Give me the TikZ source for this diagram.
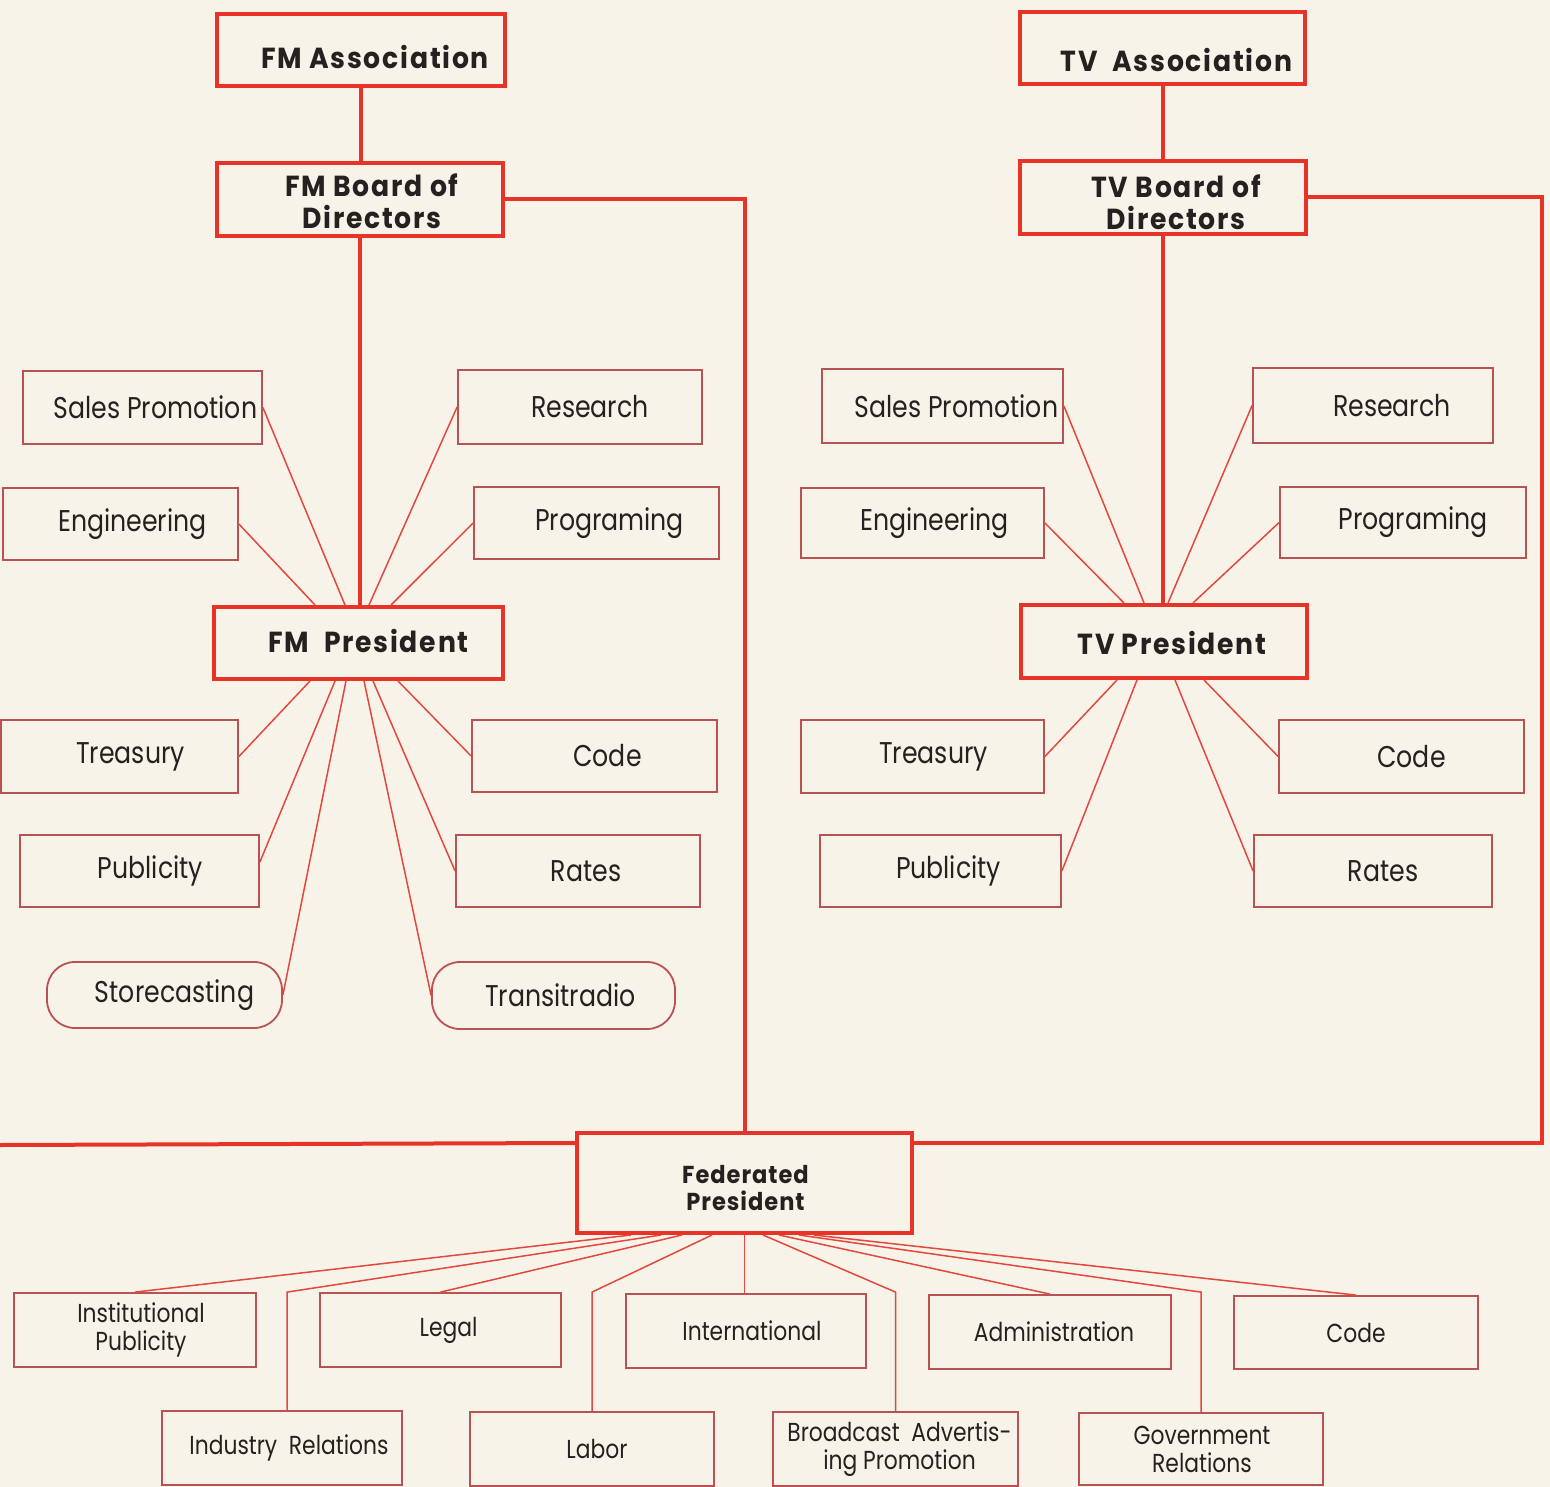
\documentclass[tikz,border=0pt]{standalone}
\usepackage{fontspec}
\newfontfamily\regf{Poppins}[FakeStretch=0.84]
\newfontfamily\boldf{Poppins}[FakeStretch=0.92,LetterSpace=6]
\newfontfamily\fedf{Poppins}[FakeStretch=0.92,LetterSpace=4]
\definecolor{bg}{RGB}{248,243,233}
\definecolor{redk}{RGB}{232,52,40}
\definecolor{thinb}{RGB}{185,82,82}
\definecolor{clin}{RGB}{226,72,62}
\definecolor{ink}{RGB}{38,33,33}
\begin{document}
\begin{tikzpicture}[x=1pt,y=-1pt,
  hbox/.style={draw=redk,line width=4pt,inner sep=0pt},
  tbox/.style={draw=thinb,line width=1.8pt,inner sep=0pt},
  rbox/.style={tbox,rounded corners=28pt},
  hlab/.style={text=ink,align=center,font=\boldf\bfseries\fontsize{29}{32}\selectfont},
  flab/.style={text=ink,align=center,font=\fedf\bfseries\fontsize{24.5}{27}\selectfont},
  mlab/.style={text=ink,align=center,font=\regf\fontsize{30}{34}\selectfont},
  slab/.style={text=ink,align=center,font=\regf\fontsize{26}{28}\selectfont},
  tline/.style={draw=redk,line width=4pt},
  cline/.style={draw=clin,line width=1.5pt}]
\fill[bg] (0,0) rectangle (1550,1487);
\useasboundingbox (0,0) rectangle (1550,1487);

% ---------- FM side ----------
\node[hbox,minimum width=288pt,minimum height=72pt,label={[hlab,xshift=14pt,yshift=-7pt]center:FM Association}] (fmassoc) at (361,50) {};
\node[hbox,minimum width=286pt,minimum height=73pt,label={[hlab,xshift=12pt,yshift=-2pt]center:FM Board of\\Directors}] (fmboard) at (360,199.5) {};
\node[hbox,minimum width=289pt,minimum height=72pt,label={[hlab,xshift=10pt,yshift=2pt]center:FM\ \ President}] (fmpres) at (358.5,643) {};

\node[tbox,minimum width=239pt,minimum height=73pt,label={[mlab,xshift=13pt]center:Sales Promotion}] (fsp) at (142.5,407.5) {};
\node[tbox,minimum width=235pt,minimum height=72pt,label={[mlab,xshift=12pt]center:Engineering}] (feng) at (120.5,524) {};
\node[tbox,minimum width=244pt,minimum height=74pt,label={[mlab,xshift=10pt]center:Research}] (fres) at (580,407) {};
\node[tbox,minimum width=245pt,minimum height=72pt,label={[mlab,xshift=13pt]center:Programing}] (fprg) at (596.5,523) {};
\node[tbox,minimum width=237pt,minimum height=73pt,label={[mlab,xshift=11pt]center:Treasury}] (ftre) at (119.5,756.5) {};
\node[tbox,minimum width=245pt,minimum height=72pt,label={[mlab,xshift=13pt]center:Code}] (fcod) at (594.5,756) {};
\node[tbox,minimum width=239pt,minimum height=72pt,label={[mlab,xshift=11pt]center:Publicity}] (fpub) at (139.5,871) {};
\node[tbox,minimum width=244pt,minimum height=72pt,label={[mlab,xshift=8pt]center:Rates}] (frat) at (578,871) {};
\node[rbox,minimum width=235pt,minimum height=66pt,label={[mlab,xshift=10pt]center:Storecasting}] (fsto) at (164.5,995) {};
\node[rbox,minimum width=243pt,minimum height=67pt,label={[mlab,xshift=7pt]center:Transitradio}] (ftra) at (553.5,995.5) {};

% ---------- TV side ----------
\node[hbox,minimum width=285pt,minimum height=72pt,label={[hlab,xshift=14pt,yshift=-12pt]center:TV\ \ Association}] (tvassoc) at (1162.5,48) {};
\node[hbox,minimum width=286pt,minimum height=73pt,label={[hlab,xshift=13pt,yshift=-5pt]center:TV Board of\\Directors}] (tvboard) at (1163,197.5) {};
\node[hbox,minimum width=286pt,minimum height=73pt,label={[hlab,xshift=8pt,yshift=-1pt]center:TV President}] (tvpres) at (1164,641.5) {};

\node[tbox,minimum width=241pt,minimum height=74pt,label={[mlab,xshift=14pt]center:Sales Promotion}] (tsp) at (942.5,406) {};
\node[tbox,minimum width=243pt,minimum height=70pt,label={[mlab,xshift=12pt]center:Engineering}] (teng) at (922.5,523) {};
\node[tbox,minimum width=240pt,minimum height=75pt,label={[mlab,xshift=19pt]center:Research}] (tres) at (1373,405.5) {};
\node[tbox,minimum width=246pt,minimum height=71pt,label={[mlab,xshift=10pt]center:Programing}] (tprg) at (1403,522.5) {};
\node[tbox,minimum width=243pt,minimum height=73pt,label={[mlab,xshift=11pt]center:Treasury}] (ttre) at (922.5,756.5) {};
\node[tbox,minimum width=245pt,minimum height=73pt,label={[mlab,xshift=10pt]center:Code}] (tcod) at (1401.5,756.5) {};
\node[tbox,minimum width=241pt,minimum height=72pt,label={[mlab,xshift=8pt]center:Publicity}] (tpub) at (940.5,871) {};
\node[tbox,minimum width=238pt,minimum height=72pt,label={[mlab,xshift=10pt]center:Rates}] (trat) at (1373,871) {};

% ---------- Federated ----------
\node[hbox,minimum width=335pt,minimum height=100pt,label={[flab,xshift=1pt,yshift=-5pt]center:Federated\\President}] (fed) at (744.5,1183) {};

\node[tbox,minimum width=242pt,minimum height=74pt,label={[slab,xshift=6pt]center:Institutional\\Publicity}] (inst) at (135,1330) {};
\node[tbox,minimum width=241pt,minimum height=74pt,label={[slab,xshift=8pt]center:Legal}] (legal) at (440.5,1330) {};
\node[tbox,minimum width=240pt,minimum height=74pt,label={[slab,xshift=6pt]center:International}] (intl) at (746,1331) {};
\node[tbox,minimum width=242pt,minimum height=74pt,label={[slab,xshift=4pt]center:Administration}] (admin) at (1050,1332) {};
\node[tbox,minimum width=244pt,minimum height=73pt,label={[slab]center:Code}] (bcode) at (1356,1332.5) {};
\node[tbox,minimum width=240pt,minimum height=74pt,label={[slab,xshift=7pt]center:Industry\ \ Relations}] (ind) at (282,1448) {};
\node[tbox,minimum width=244pt,minimum height=74pt,label={[slab,xshift=5pt]center:Labor}] (labor) at (592,1449) {};
\node[tbox,minimum width=245pt,minimum height=74pt,label={[slab,xshift=4pt]center:Broadcast\ \ Advertis-\\ing Promotion}] (bap) at (895.5,1449) {};
\node[tbox,minimum width=244pt,minimum height=72pt,label={[slab,xshift=1pt]center:Government\\Relations}] (gov) at (1201,1449) {};

% ---------- thick connectors ----------
\draw[tline] (fmassoc.south) -- (fmassoc.south |- fmboard.north);
\draw[tline] (fmboard.south) -- (fmboard.south |- fmpres.north);
\draw[tline] (fmboard.east) -| (fed.north);
\draw[tline] (tvassoc.south) -- (tvassoc.south |- tvboard.north);
\draw[tline] (tvboard.south) -- (tvboard.south |- tvpres.north);
\draw[tline] (tvboard.east) -- ++(234,0) |- ([yshift=-12pt]fed.north east);
\coordinate (lend) at (0,1145);
\draw[tline] (lend) -- ([yshift=-12pt]fed.north west);

% ---------- FM thin connectors ----------
\draw[cline] (fsp.east) -- ([xshift=133pt]fmpres.north west);
\draw[cline] (feng.east) -- ([xshift=103pt]fmpres.north west);
\draw[cline] (fres.west) -- ([xshift=157pt]fmpres.north west);
\draw[cline] (fprg.west) -- ([xshift=179pt]fmpres.north west);
\draw[cline] (ftre.east) -- ([xshift=98pt]fmpres.south west);
\draw[cline] ([yshift=9pt]fpub.east) -- ([xshift=123pt]fmpres.south west);
\draw[cline] (fsto.east) -- ([xshift=134pt]fmpres.south west);
\draw[cline] (ftra.west) -- ([xshift=152pt]fmpres.south west);
\draw[cline] (frat.west) -- ([xshift=161pt]fmpres.south west);
\draw[cline] (fcod.west) -- ([xshift=186pt]fmpres.south west);

% ---------- TV thin connectors ----------
\draw[cline] (tsp.east) -- ([xshift=125pt]tvpres.north west);
\draw[cline] (teng.east) -- ([xshift=105pt]tvpres.north west);
\draw[cline] (tres.west) -- ([xshift=149pt]tvpres.north west);
\draw[cline] (tprg.west) -- ([xshift=174pt]tvpres.north west);
\draw[cline] (ttre.east) -- ([xshift=98pt]tvpres.south west);
\draw[cline] (tpub.east) -- ([xshift=118pt]tvpres.south west);
\draw[cline] (trat.west) -- ([xshift=156pt]tvpres.south west);
\draw[cline] (tcod.west) -- ([xshift=185pt]tvpres.south west);

% ---------- Federated connectors ----------
\draw[cline] (inst.north) -- ([xshift=56pt]fed.south west);
\draw[cline] ([xshift=5pt]ind.north) -- ([xshift=5pt]ind.north |- inst.north) -- ([xshift=86pt]fed.south west);
\draw[cline] (legal.north) -- ([xshift=107pt]fed.south west);
\draw[cline] (labor.north) -- (labor.north |- inst.north) -- ([xshift=137pt]fed.south west);
\draw[cline] (fed.south) -- (fed.south |- intl.north);
\draw[cline] (bap.north) -- (bap.north |- inst.north) -- ([xshift=188pt]fed.south west);
\draw[cline] (admin.north) -- ([xshift=204pt]fed.south west);
\draw[cline] (gov.north) -- (gov.north |- inst.north) -- ([xshift=224pt]fed.south west);
\draw[cline] (bcode.north) -- ([xshift=239pt]fed.south west);
\end{tikzpicture}
\end{document}
